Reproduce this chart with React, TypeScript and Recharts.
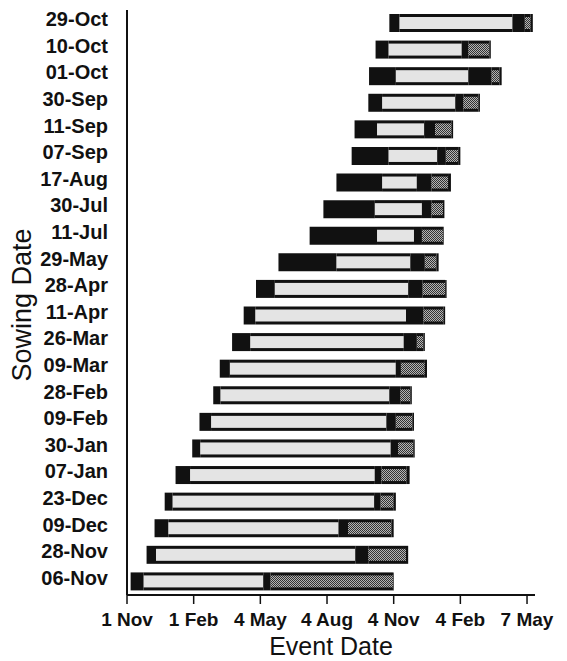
import React from "react";
import { BarChart, Bar, XAxis, YAxis } from "recharts";

// sowing dates, top row first
const sowingLabels = [
  "29-Oct", "10-Oct", "01-Oct", "30-Sep", "11-Sep", "07-Sep", "17-Aug", "30-Jul",
  "11-Jul", "29-May", "28-Apr", "11-Apr", "26-Mar", "09-Mar", "28-Feb", "09-Feb",
  "30-Jan", "07-Jan", "23-Dec", "09-Dec", "28-Nov", "06-Nov",
];

// all values are days counted from 1 Nov of the first season
const sowDay = [362, 343, 334, 333, 314, 310, 289, 271, 252, 209, 178, 161, 145, 128, 119, 100, 90, 67, 52, 38, 27, 5];
const lightStart = [376, 361, 371, 352, 345, 361, 352, 342, 345, 289, 204, 177, 170, 142, 129, 116, 101, 87, 63, 57, 40, 23];
const lightEnd = [532, 462, 471, 453, 410, 428, 400, 407, 396, 391, 388, 385, 382, 371, 362, 358, 364, 342, 341, 292, 315, 188];
const darkStart = [549, 471, 503, 464, 425, 440, 420, 420, 407, 411, 408, 409, 400, 378, 377, 371, 374, 351, 350, 305, 333, 198];
const darkEnd = [557, 500, 514, 485, 448, 457, 443, 436, 436, 427, 439, 437, 409, 411, 391, 394, 395, 386, 368, 365, 385, 367];
const endDay = [560, 502, 517, 487, 450, 460, 447, 438, 437, 430, 441, 439, 411, 414, 393, 396, 397, 390, 371, 368, 388, 368];

const tickDays = [0, 92, 184, 276, 368, 460, 552];
const tickLabels = ["1 Nov", "1 Feb", "4 May", "4 Aug", "4 Nov", "4 Feb", "7 May"];

const FONT = '"Liberation Sans", Arial, sans-serif';

const data = sowingLabels.map((s, i) => ({
  sowing: s,
  offset: sowDay[i],
  black1: lightStart[i] - sowDay[i],
  light: lightEnd[i] - lightStart[i],
  black2: darkStart[i] - lightEnd[i],
  dark: darkEnd[i] - darkStart[i],
  black3: endDay[i] - darkEnd[i],
}));

const insetShape = (fill: string) => (props: any) => {
  const { x, y, width, height } = props;
  if (!width || width <= 0) return <g />;
  return (
    <g>
      <rect x={x} y={y} width={width} height={height} fill="#111" />
      <rect x={x} y={y + 3} width={width} height={height - 6} fill={fill} />
    </g>
  );
};

const YTick = ({ x, y, payload }: any) => (
  <text x={x} y={y} dy={3} textAnchor="end" fontFamily={FONT} fontWeight="bold" fontSize={20} fill="#111">
    {payload.value}
  </text>
);

const XTick = ({ x, y, payload }: any) => {
  const idx = tickDays.indexOf(payload.value);
  return (
    <text x={x} y={y} dy={22} textAnchor="middle" fontFamily={FONT} fontWeight="bold" fontSize={19} fill="#111">
      {idx >= 0 ? tickLabels[idx] : ""}
    </text>
  );
};

export default function App() {
  return (
    <div style={{ position: "absolute", left: 0, top: 0, width: 567, height: 661, background: "#fff" }}>
      <BarChart
        width={567}
        height={661}
        data={data}
        layout="vertical"
        margin={{ top: 10, right: 32, bottom: 0, left: 0 }}
      >
        <defs>
          <pattern id="darkFill" width="2" height="2" patternUnits="userSpaceOnUse">
            <rect width="2" height="2" fill="#b4b4b4" />
            <rect width="1" height="1" fill="#333" />
            <rect x="1" y="1" width="1" height="1" fill="#333" />
          </pattern>
        </defs>
        <XAxis
          xAxisId="bottom"
          type="number"
          domain={[0, 563]}
          ticks={tickDays}
          interval={0}
          height={66}
          tickSize={9}
          tickMargin={0}
          tick={<XTick />}
          axisLine={{ stroke: "#111", strokeWidth: 2 }}
          tickLine={{ stroke: "#111", strokeWidth: 1.5 }}
          allowDataOverflow
          label={(p: any) => (
            <text x={331} y={655} textAnchor="middle" fontFamily={FONT} fontSize={25} fill="#111">
              Event Date
            </text>
          )}
        />
        <XAxis
          xAxisId="top"
          orientation="top"
          type="number"
          domain={[0, 563]}
          height={0}
          tick={false}
          tickLine={false}
          axisLine={{ stroke: "#111", strokeWidth: 2 }}
        />
        <YAxis
          yAxisId="left"
          type="category"
          dataKey="sowing"
          width={127}
          tickSize={6}
          tickMargin={13}
          tickLine={false}
          interval={0}
          tick={<YTick />}
          axisLine={{ stroke: "#111", strokeWidth: 2 }}
          label={(p: any) => (
            <text
              x={31}
              y={305}
              transform="rotate(-90, 31, 305)"
              textAnchor="middle"
              fontFamily={FONT}
              fontSize={27}
              fill="#111"
            >
              Sowing Date
            </text>
          )}
        />
        <YAxis
          yAxisId="right"
          orientation="right"
          type="category"
          dataKey="sowing"
          width={0}
          tick={false}
          tickLine={false}
          axisLine={{ stroke: "#111", strokeWidth: 2 }}
        />
        <Bar xAxisId="bottom" yAxisId="left" dataKey="offset" stackId="a" fill="transparent" barSize={18} isAnimationActive={false} />
        <Bar xAxisId="bottom" yAxisId="left" dataKey="black1" stackId="a" fill="#111" barSize={18} isAnimationActive={false} />
        <Bar xAxisId="bottom" yAxisId="left" dataKey="light" stackId="a" barSize={18} shape={insetShape("#e4e4e4")} isAnimationActive={false} />
        <Bar xAxisId="bottom" yAxisId="left" dataKey="black2" stackId="a" fill="#111" barSize={18} isAnimationActive={false} />
        <Bar xAxisId="bottom" yAxisId="left" dataKey="dark" stackId="a" barSize={18} shape={insetShape("url(#darkFill)")} isAnimationActive={false} />
        <Bar xAxisId="bottom" yAxisId="left" dataKey="black3" stackId="a" fill="#111" barSize={18} isAnimationActive={false} />
      </BarChart>
    </div>
  );
}
